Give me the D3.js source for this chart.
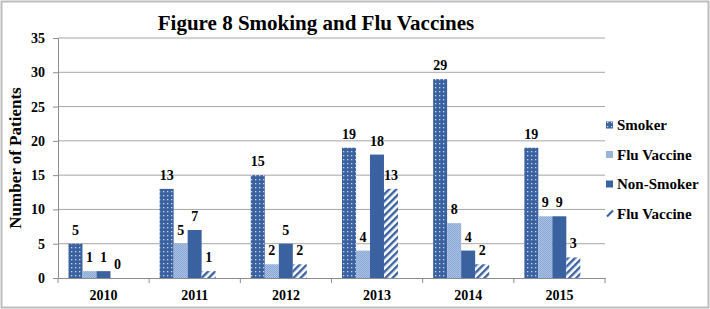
<!DOCTYPE html>
<html>
<head>
<meta charset="utf-8">
<script src="https://cdn.jsdelivr.net/npm/d3@7"></script>
<style>
  body { margin: 0; background: #fff; }
  text { font-family: "Liberation Serif", "Times New Roman", serif; font-weight: bold; }
</style>
</head>
<body>
<div id="chart"></div>
<script>
// chart data
const years = ["2010", "2011", "2012", "2013", "2014", "2015"];
const seriesNames = ["Smoker", "Flu Vaccine", "Non-Smoker", "Flu Vaccine"];
const smoker = [5, 13, 15, 19, 29, 19];
const fluVaccineSmoker = [1, 5, 2, 4, 8, 9];
const nonSmoker = [1, 7, 5, 18, 4, 9];
const fluVaccineNonSmoker = [0, 1, 2, 13, 2, 3];
const yTicks = [0, 5, 10, 15, 20, 25, 30, 35];

const W = 710, H = 309;
const MARGIN = { top: 38, right: 105, bottom: 31, left: 58 };
const width = W - MARGIN.left - MARGIN.right;
const height = H - MARGIN.top - MARGIN.bottom;

const seriesValues = [smoker, fluVaccineSmoker, nonSmoker, fluVaccineNonSmoker];
const fills = ["url(#dots)", "url(#checks)", "#3b62a0", "url(#hatch)"];

const svg = d3.select("#chart").append("svg")
  .attr("width", W).attr("height", H);

// patterns
const defs = svg.append("defs");
const dots = defs.append("pattern").attr("id", "dots")
  .attr("patternUnits", "userSpaceOnUse").attr("width", 4).attr("height", 4);
dots.append("rect").attr("width", 4).attr("height", 4).attr("fill", "#3b62a0");
dots.append("rect").attr("x", 1).attr("y", 1).attr("width", 1.3).attr("height", 1.3).attr("fill", "#c9d6ea");

const checks = defs.append("pattern").attr("id", "checks")
  .attr("patternUnits", "userSpaceOnUse").attr("width", 2).attr("height", 2);
checks.append("rect").attr("width", 2).attr("height", 2).attr("fill", "#a9c0e2");
checks.append("rect").attr("width", 1).attr("height", 1).attr("fill", "#8aa9d6");
checks.append("rect").attr("x", 1).attr("y", 1).attr("width", 1).attr("height", 1).attr("fill", "#8aa9d6");

const hatch = defs.append("pattern").attr("id", "hatch")
  .attr("patternUnits", "userSpaceOnUse").attr("width", 5).attr("height", 5)
  .attr("patternTransform", "rotate(45)");
hatch.append("rect").attr("width", 5).attr("height", 5).attr("fill", "#fff");
hatch.append("rect").attr("width", 2.4).attr("height", 5).attr("fill", "#3b62a0");

// outer frame
svg.append("rect").attr("x", 1.5).attr("y", 1.5).attr("width", W - 3).attr("height", H - 3)
  .attr("fill", "none").attr("stroke", "#bdbdbd").attr("stroke-width", 2);

const g = svg.append("g").attr("transform", `translate(${MARGIN.left},${MARGIN.top})`);

const x0 = d3.scaleBand().domain(years).range([0, width]);
const x1 = d3.scaleBand().domain(d3.range(seriesNames.length))
  .range([x0.bandwidth() * 0.115, x0.bandwidth() * 0.115 + 56]);
const y = d3.scaleLinear().domain([0, 35]).range([height, 0]);

// gridlines
g.append("g").selectAll("line").data(yTicks.slice(1)).join("line")
  .attr("x1", 0).attr("x2", width)
  .attr("y1", (d) => y(d)).attr("y2", (d) => y(d))
  .attr("stroke", "#a6a6a6");

// y axis
const yAxis = g.append("g").call(d3.axisLeft(y).tickValues(yTicks).tickSize(5).tickPadding(8));
yAxis.select(".domain").attr("stroke", "#8c8c8c");
yAxis.selectAll(".tick line").attr("stroke", "#8c8c8c");
yAxis.selectAll("text").attr("font-size", 14).attr("fill", "#000")
  .attr("font-family", "Liberation Serif").attr("font-weight", "bold");

// bars
seriesValues.forEach((vals, si) => {
  g.append("g").selectAll("rect").data(vals).join("rect")
    .attr("x", (d, i) => x0(years[i]) + x1(si))
    .attr("y", (d) => y(d))
    .attr("width", x1.bandwidth())
    .attr("height", (d) => height - y(d))
    .attr("fill", fills[si]);
  g.append("g").selectAll("text").data(vals).join("text")
    .attr("x", (d, i) => x0(years[i]) + x1(si) + x1.bandwidth() / 2)
    .attr("y", (d) => y(d) - 9)
    .attr("text-anchor", "middle")
    .attr("font-size", 14)
    .text((d) => d);
});

// x axis
const xAxis = g.append("g").attr("transform", `translate(0,${height})`)
  .call(d3.axisBottom(x0).tickSize(0).tickPadding(12));
xAxis.select(".domain").attr("stroke", "#8c8c8c");
xAxis.selectAll("text").attr("font-size", 14).attr("fill", "#000")
  .attr("font-family", "Liberation Serif").attr("font-weight", "bold");
g.append("g").selectAll("line").data(d3.range(years.length + 1)).join("line")
  .attr("x1", (d) => d * x0.step()).attr("x2", (d) => d * x0.step())
  .attr("y1", height).attr("y2", height + 5)
  .attr("stroke", "#8c8c8c");

// title
svg.append("text").attr("x", 316).attr("y", 30).attr("text-anchor", "middle")
  .attr("font-size", 21).text("Figure 8 Smoking and Flu Vaccines");

// y label
svg.append("text").attr("transform", `translate(21,${MARGIN.top + height / 2}) rotate(-90)`)
  .attr("text-anchor", "middle").attr("font-size", 17).text("Number of Patients");

// legend
const legend = svg.append("g").attr("transform", "translate(606,125)");
seriesNames.forEach((name, i) => {
  const item = legend.append("g").attr("transform", `translate(0,${i * 29.5})`);
  if (i === 3) {
    item.append("line").attr("x1", 1).attr("y1", 3).attr("x2", 7).attr("y2", -3)
      .attr("stroke", "#3b62a0").attr("stroke-width", 2.2);
  } else {
    item.append("rect").attr("x", 0).attr("y", -3.5).attr("width", 7).attr("height", 7)
      .attr("fill", fills[i]);
  }
  item.append("text").attr("x", 11).attr("y", 5).attr("font-size", 15).text(name);
});
</script>
</body>
</html>
